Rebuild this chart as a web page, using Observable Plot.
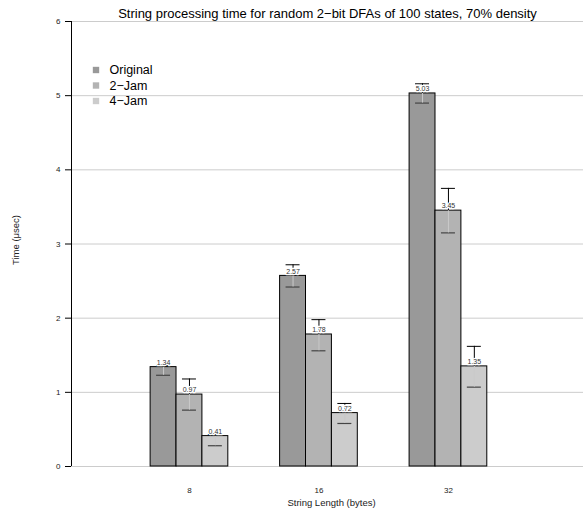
<!DOCTYPE html>
<html>
<head>
<meta charset="utf-8">
<script src="https://cdn.jsdelivr.net/npm/d3@7"></script>
<script src="https://cdn.jsdelivr.net/npm/@observablehq/plot@0.6"></script>
<style>
  html, body { margin: 0; padding: 0; background: white; }
  #chart svg { display: block; font-family: "Liberation Sans", Arial, sans-serif; }
</style>
</head>
<body>
<div id="chart"></div>
<script>
const title = "String processing time for random 2\u2212bit DFAs of 100 states, 70% density";
const xLabel = "String Length (bytes)";
const yLabel = "Time (\u03bcsec)";
const groups = ["8", "16", "32"];
const series = ["Original", "2\u2212Jam", "4\u2212Jam"];
const colors = ["#999999", "#b3b3b3", "#cccccc"];
const yTicks = [0, 1, 2, 3, 4, 5, 6];

const originalValues = [1.34, 2.57, 5.03];
const jam2Values = [0.97, 1.78, 3.45];
const jam4Values = [0.41, 0.72, 1.35];

const originalUpper = [1.36, 2.72, 5.16];
const jam2Upper = [1.18, 1.98, 3.75];
const jam4Upper = [0.43, 0.85, 1.62];

const originalLower = [1.23, 2.42, 4.90];
const jam2Lower = [0.76, 1.56, 3.15];
const jam4Lower = [0.28, 0.58, 1.07];

const valuesBySeries = [originalValues, jam2Values, jam4Values];
const upperBySeries = [originalUpper, jam2Upper, jam4Upper];
const lowerBySeries = [originalLower, jam2Lower, jam4Lower];

const barW = 0.2, capW = 0.054;
const xDomain = [0.089, 4.043];

const rows = [];
groups.forEach((g, gi) => {
  series.forEach((s, si) => {
    rows.push({
      group: g, series: s,
      xc: gi + 1 + (si - 1) * barW,
      value: valuesBySeries[si][gi],
      hi: upperBySeries[si][gi],
      lo: lowerBySeries[si][gi]
    });
  });
});

const font = "Liberation Sans, Arial, sans-serif";

const legendMarks = series.flatMap((s, i) => [
  Plot.dot([s], {frameAnchor: "top-left", dx: 24.5, dy: 48.5 + 15.5 * i, symbol: "square", r: 3.6, fill: colors[i]}),
  Plot.text([s], {frameAnchor: "top-left", dx: 38, dy: 48.5 + 15.5 * i, text: d => d, textAnchor: "start", lineAnchor: "middle", fontSize: 12.5, fill: "black"})
]);

const chart = Plot.plot({
  width: 585,
  height: 509,
  marginLeft: 71,
  marginRight: 2,
  marginTop: 21,
  marginBottom: 43,
  style: {fontFamily: font, background: "white"},
  x: {type: "linear", domain: xDomain, axis: null},
  y: {domain: [0, 6], axis: null},
  color: {domain: series, range: colors},
  marks: [
    Plot.ruleY(yTicks, {y: d => d, stroke: "#cccccc", strokeWidth: 1}),
    Plot.axisY({ticks: yTicks, tickFormat: d => String(d), tickSize: 6, tickPadding: 5, fontSize: 8, label: null, stroke: "black", fill: "#222"}),
    Plot.ruleX([xDomain[0]], {x: d => d, stroke: "black"}),
    Plot.rect(rows, {x1: d => d.xc - barW / 2, x2: d => d.xc + barW / 2, y1: 0, y2: "value", fill: "series", stroke: "black", strokeWidth: 1}),
    Plot.ruleY(rows, {y: "lo", x1: d => d.xc - capW, x2: d => d.xc + capW, stroke: "#444", strokeWidth: 1.2}),
    Plot.ruleX(rows, {x: "xc", y1: "lo", y2: "value", stroke: "#c9c9c9", strokeWidth: 1}),
    Plot.ruleX(rows, {x: "xc", y1: "value", y2: "hi", stroke: "black", strokeWidth: 1}),
    Plot.ruleY(rows, {y: "hi", x1: d => d.xc - capW, x2: d => d.xc + capW, stroke: "black", strokeWidth: 1}),
    Plot.text(rows, {x: "xc", y: "value", text: d => d.value.toFixed(2), dy: -4.5, fontSize: 7, fill: "#333", stroke: "white", strokeWidth: 2.5, paintOrder: "stroke"}),
    Plot.text(groups, {x: (d, i) => i + 1, frameAnchor: "bottom", dy: 23.5, lineAnchor: "middle", text: d => d, fontSize: 8, fill: "#222"}),
    Plot.text([xLabel], {frameAnchor: "bottom", dy: 36.5, dx: 4, lineAnchor: "middle", text: d => d, fontSize: 9.5, fill: "#222"}),
    Plot.text([yLabel], {frameAnchor: "left", dx: -56, dy: -4, rotate: -90, textAnchor: "middle", lineAnchor: "middle", text: d => d, fontSize: 9.5, fill: "#222"}),
    Plot.text([title], {frameAnchor: "top", dy: -8, lineAnchor: "middle", text: d => d, fontSize: 13, fill: "black"}),
    ...legendMarks
  ]
});

document.getElementById("chart").appendChild(chart);
</script>
</body>
</html>
